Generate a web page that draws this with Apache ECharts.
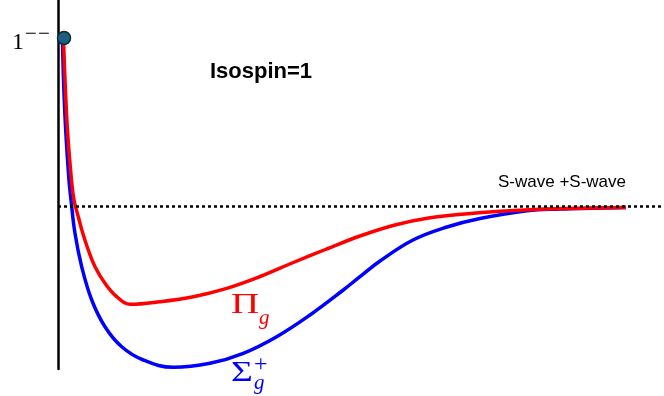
<!DOCTYPE html>
<html><head><meta charset="utf-8">
<script src="https://cdn.jsdelivr.net/npm/echarts@6/dist/echarts.min.js"></script>
<style>html,body{margin:0;padding:0;background:#fff}#c{width:664px;height:396px}</style>
</head><body><div id="c"></div>
<script>
// Pi_g potential (red)
const piG_r = [0.92,1.17,1.58,2.25,2.67,3.38,4.12,5.05,6.17,7.83,9.78,12.0,17.0,22.55,28.12,33.67,39.22,44.78,50.33,56.17,62.0,67.83,73.67,80.33,87.0,94.67];
const piG_E = [16.6,12.6,7.6,2.6,0.6,-1.07,-2.7,-4.4,-6.07,-7.73,-9.07,-9.83,-9.57,-9.07,-8.23,-7.05,-5.65,-4.3,-3.0,-1.9,-1.18,-0.8,-0.53,-0.33,-0.22,-0.15];
// Sigma_g^+ potential (blue)
const sigG_r = [0.75,0.92,1.28,1.83,2.17,2.83,3.95,5.62,7.83,10.62,14.22,19.22,25.33,30.88,36.45,42.0,47.55,50.33,53.67,59.17,64.83,70.33,78.17,83.67,89.17,94.67];
const sigG_E = [16.6,12.6,7.6,2.6,0.6,-2.73,-6.07,-9.4,-12.07,-14.07,-15.4,-16.13,-15.73,-14.73,-13.07,-10.9,-8.4,-7.06,-5.5,-3.4,-2.1,-1.25,-0.47,-0.3,-0.22,-0.15];
// state point 1--
const state_r = [1.0];
const state_E = [16.8];
const threshold = 0;
const thresholdLabel = 'S-wave +S-wave';
const titleLabel = 'Isospin=1';

const zip = (a,b)=>a.map((v,i)=>[v,b[i]]);
const chart = echarts.init(document.getElementById('c'), null, {renderer:'canvas'});
const serif = '"Liberation Serif","DejaVu Serif",serif';
const sans = '"Liberation Sans",Arial,sans-serif';
const T = (x,y,text,font,fill,sx)=>({type:'text',x:x,y:y,scaleX:sx||1,z:100,style:{text:text,font:font,fill:fill,verticalAlign:'middle',align:'left'}});
chart.setOption({
  animation:false,
  grid:{left:58,right:0,top:0,bottom:27},
  xAxis:{type:'value',min:0,max:101,axisLine:{show:false},axisTick:{show:false},axisLabel:{show:false},splitLine:{show:false}},
  yAxis:{type:'value',min:-16.3,max:20.6,axisLine:{show:true,lineStyle:{color:'#000',width:2.5}},axisTick:{show:false},axisLabel:{show:false},splitLine:{show:false}},
  series:[
    {type:'line',data:zip(sigG_r,sigG_E),showSymbol:false,smooth:0.4,lineStyle:{color:'#0000ff',width:3.5},z:3,
     markLine:{silent:true,symbol:'none',label:{show:false},lineStyle:{color:'#000',type:[3,3],width:2.5},data:[{yAxis:threshold}]}},
    {type:'line',data:zip(piG_r,piG_E),showSymbol:false,smooth:0.4,lineStyle:{color:'#ff0000',width:3.5},z:4},
    {type:'scatter',data:zip(state_r,state_E),symbolSize:13,itemStyle:{color:'#1c5f7e',borderColor:'#0b2c3b',borderWidth:1.5,opacity:1},z:10}
  ],
  graphic:[
    T(12,43,'1','24px '+serif,'#000'),
    T(25,34.5,'−','21px '+serif,'#000'),
    T(38,34.5,'−','21px '+serif,'#000'),
    T(210,71.5,titleLabel,'bold 22px '+sans,'#000'),
    T(498,182.5,thresholdLabel,'17px '+sans,'#000'),
    T(231,305,'Π','30px '+serif,'#ff0000',1.3),
    T(259,318,'g','italic 21px '+serif,'#ff0000'),
    T(231,373,'Σ','30px '+serif,'#0000ff',1.25),
    T(254,365,'+','24px '+serif,'#0000ff'),
    T(254,383,'g','italic 21px '+serif,'#0000ff')
  ]
});
</script></body></html>
